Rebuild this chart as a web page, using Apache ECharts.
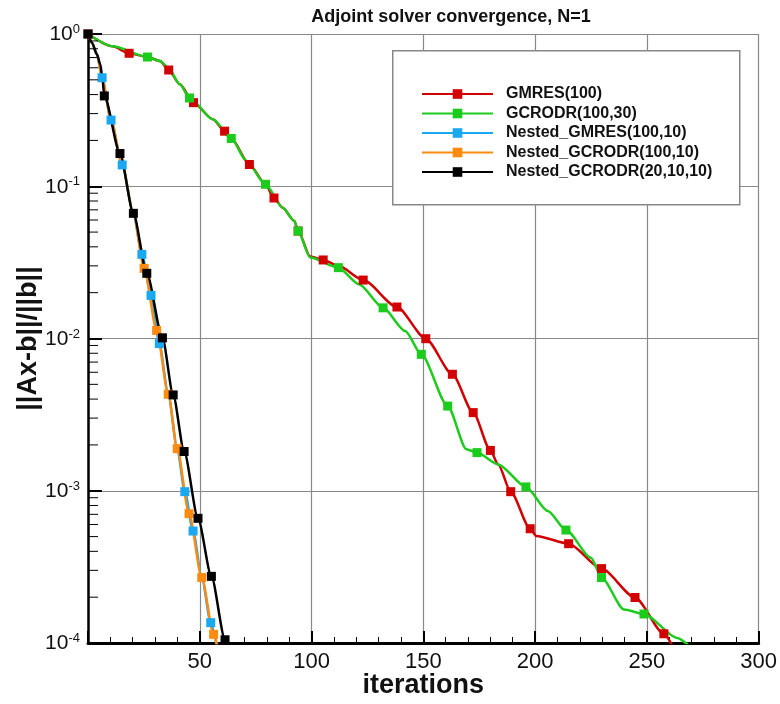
<!DOCTYPE html>
<html>
<head>
    <meta charset="utf-8" />
    <title>Adjoint solver convergence</title>
    <style>
        html, body { margin: 0; padding: 0; background: #fff; }
        #main { width: 780px; height: 704px; }
    </style>
    <script src="https://cdn.jsdelivr.net/npm/echarts@6/dist/echarts.min.js"></script>
</head>
<body>
    <div id="main"></div>
    <script type="text/javascript">
        // [iteration, residual, marker?]
        const gmres = [
            [0, 1, 1], [11, 0.83, 0], [18.4, 0.747, 1], [26.6, 0.706, 0], [32.2, 0.665, 0], [36.1, 0.58, 1],
            [41.1, 0.467, 0], [47.2, 0.354, 1], [55.9, 0.275, 0], [61.1, 0.230, 1], [64.1, 0.206, 0],
            [72.2, 0.139, 1], [79.4, 0.103, 0], [83.2, 0.0837, 1], [87.1, 0.0723, 0], [92.3, 0.0591, 0],
            [94, 0.0508, 1], [99.4, 0.0345, 0], [105.2, 0.0328, 1], [112, 0.0300, 0], [123.1, 0.0242, 1],
            [138.2, 0.0161, 1], [151.1, 0.00997, 1], [163, 0.00582, 1], [172.3, 0.00326, 1], [180, 0.00184, 1],
            [183.5, 0.00149, 0], [189.1, 0.000986, 1], [197.8, 0.000563, 1], [200.5, 0.000505, 0],
            [215, 0.000449, 1], [229.7, 0.000308, 1], [244.7, 0.000199, 1], [257.6, 0.000115, 1],
            [261.5, 0.000095, 0]
        ];
        const gcrodr = [
            [0, 1, 0], [11, 0.83, 0], [26.6, 0.706, 1], [32.2, 0.665, 0], [35.9, 0.60, 0], [41.1, 0.467, 0],
            [45.4, 0.380, 1], [55.9, 0.275, 0], [64.1, 0.206, 1], [70.8, 0.147, 0], [79.4, 0.103, 1],
            [87.1, 0.0723, 0], [92.3, 0.0591, 0], [94, 0.0508, 1], [99.4, 0.0340, 0], [112, 0.0292, 1],
            [121.2, 0.0227, 0], [132, 0.0159, 1], [141.9, 0.0112, 0], [149.1, 0.00787, 1],
            [160.9, 0.00360, 1], [169.3, 0.00187, 0], [174, 0.00178, 1], [183.5, 0.00149, 0],
            [195.9, 0.00106, 1], [205.7, 0.000736, 0], [213.8, 0.000552, 1], [225, 0.000363, 0],
            [229.7, 0.000269, 1], [239.8, 0.000166, 0], [248.7, 0.000155, 1], [263.5, 0.000108, 0],
            [268.5, 0.000097, 0]
        ];
        const nestedGmres = [
            [0, 1, 0], [1.8, 0.877, 0], [4, 0.735, 0], [6.3, 0.516, 1], [10.3, 0.272, 1], [15.3, 0.138, 1],
            [20.3, 0.0664, 0], [24.1, 0.0357, 1], [28.2, 0.0192, 1], [31.9, 0.00925, 1], [35.9, 0.0043, 0],
            [39.9, 0.00189, 0], [43.3, 0.000986, 1], [47.0, 0.000544, 1], [50.9, 0.000269, 0],
            [54.9, 0.000136, 1], [57.6, 0.000095, 0]
        ];
        const nestedGcrodr = [
            [0, 1, 0], [1.8, 0.877, 0], [4, 0.735, 0], [6.3, 0.516, 0], [10.3, 0.272, 0], [15.3, 0.138, 0],
            [20.3, 0.0664, 0], [25.1, 0.0289, 1], [30.7, 0.0113, 1], [35.9, 0.0043, 1], [39.9, 0.00189, 1],
            [45.2, 0.000707, 1], [50.9, 0.000269, 1], [56.2, 0.000114, 1], [57.9, 0.000095, 0]
        ];
        const nestedGcrodr3 = [
            [0, 1, 1], [1.8, 0.877, 0], [4, 0.735, 0], [5.5, 0.632, 0], [6.4, 0.52, 0], [7.3, 0.392, 1],
            [14.3, 0.164, 1], [20.3, 0.0664, 1], [26.3, 0.0268, 1], [33.3, 0.0101, 1], [38.1, 0.00426, 1],
            [43.0, 0.00181, 1], [49.2, 0.000659, 1], [55.2, 0.000274, 1], [61.3, 0.000105, 1],
            [62.6, 0.000096, 0]
        ];
        const seriesNames = ['GMRES(100)', 'GCRODR(100,30)', 'Nested_GMRES(100,10)', 'Nested_GCRODR(100,10)', 'Nested_GCRODR(20,10,10)'];
        const seriesData = [gmres, gcrodr, nestedGmres, nestedGcrodr, nestedGcrodr3];
        const seriesColors = ['#d20000', '#1ccc1c', '#1aa8f0', '#ff8a10', '#000000'];
        const xTicks = [50, 100, 150, 200, 250, 300];
        const minorTickVals = [];
        [1e-4, 1e-3, 1e-2, 1e-1].forEach(function (d) {
            for (let k = 2; k <= 9; k++) minorTickVals.push(d * k);
        });

        const fontNarrow = '"Liberation Sans Narrow", "Liberation Sans", Arial, sans-serif';

        const myChart = echarts.init(document.getElementById('main'));

        const series = seriesNames.map(function (name, i) {
            return {
                name: name,
                type: 'line',
                data: seriesData[i],
                smooth: 0.25,
                smoothMonotone: 'x',
                symbol: 'rect',
                symbolSize: function (v) { return v[2] ? 9 : 0; },
                showAllSymbol: true,
                clip: true,
                lineStyle: { color: seriesColors[i], width: 2.5 },
                itemStyle: { color: seriesColors[i] },
                emphasis: { disabled: true }
            };
        });

        // minor ticks of the log axis (log-spaced)
        series.push({
            type: 'custom',
            silent: true,
            data: minorTickVals.map(function (v) { return [0, v]; }),
            renderItem: function (params, api) {
                const p = api.coord([0, api.value(1)]);
                return {
                    type: 'line',
                    shape: { x1: p[0], y1: p[1], x2: p[0] + 10, y2: p[1] },
                    style: { stroke: '#000', lineWidth: 1 }
                };
            },
            z: 5
        });

        const option = {
            animation: false,
            backgroundColor: '#fff',
            title: {
                text: 'Adjoint solver convergence, N=1',
                left: 446,
                textAlign: 'center',
                top: 3,
                textStyle: { fontFamily: fontNarrow, fontSize: 18, fontWeight: 'bold', color: '#111' }
            },
            grid: { left: 88, right: 20, top: 34, bottom: 61 },
            graphic: [{
                type: 'rect',
                left: 392, top: 50,
                shape: { width: 347, height: 154 },
                style: { fill: '#fff', stroke: '#888', lineWidth: 1.5 },
                z: 3
            }],
            legend: {
                data: seriesNames,
                orient: 'vertical',
                left: 421,
                top: 86,
                padding: 0,
                itemWidth: 71,
                itemHeight: 12,
                itemGap: 3.5,
                z: 6,
                selectedMode: false,
                textStyle: { fontFamily: fontNarrow, fontSize: 16, fontWeight: 'bold', color: '#111', padding: [0, 0, 0, 8] }
            },
            xAxis: {
                type: 'value',
                min: 0, max: 300, interval: 50,
                name: 'iterations',
                nameLocation: 'middle',
                nameGap: 29,
                nameMoveOverlap: false,
                nameTextStyle: { fontFamily: fontNarrow, fontSize: 27, fontWeight: 'bold', color: '#111' },
                axisLine: { show: true, onZero: false, lineStyle: { color: '#000', width: 3 } },
                axisTick: { inside: true, length: 12, lineStyle: { color: '#000', width: 2 } },
                minorTick: { show: true, splitNumber: 5, length: 6, lineStyle: { color: '#000', width: 1 } },
                axisLabel: {
                    fontFamily: fontNarrow, fontSize: 22, color: '#111', margin: 8,
                    formatter: function (v) { return xTicks.indexOf(v) >= 0 ? String(v) : ''; }
                },
                splitLine: { show: true, lineStyle: { color: '#888', width: 1.2 } }
            },
            yAxis: {
                type: 'log',
                logBase: 10,
                min: 1e-4, max: 1,
                name: '||Ax-b||/||b||',
                nameLocation: 'middle',
                nameGap: 46,
                nameMoveOverlap: false,
                nameTextStyle: { fontFamily: fontNarrow, fontSize: 27, fontWeight: 'bold', color: '#111' },
                axisLine: { show: true, lineStyle: { color: '#000', width: 2.5 } },
                axisTick: { inside: true, length: 14, lineStyle: { color: '#000', width: 2 } },
                axisLabel: {
                    margin: 8,
                    formatter: function (v) {
                        const e = Math.round(Math.log10(v));
                        return '{a|10}{b|' + e + '}';
                    },
                    rich: {
                        a: { fontFamily: fontNarrow, fontSize: 21, color: '#111', lineHeight: 22, verticalAlign: 'bottom' },
                        b: { fontFamily: fontNarrow, fontSize: 13, color: '#111', lineHeight: 22, verticalAlign: 'top', padding: [0, 0, 8, 0] }
                    }
                },
                splitLine: { show: true, lineStyle: { color: '#888', width: 1.2 } }
            },
            series: series
        };
        myChart.setOption(option);
    </script>
</body>
</html>
